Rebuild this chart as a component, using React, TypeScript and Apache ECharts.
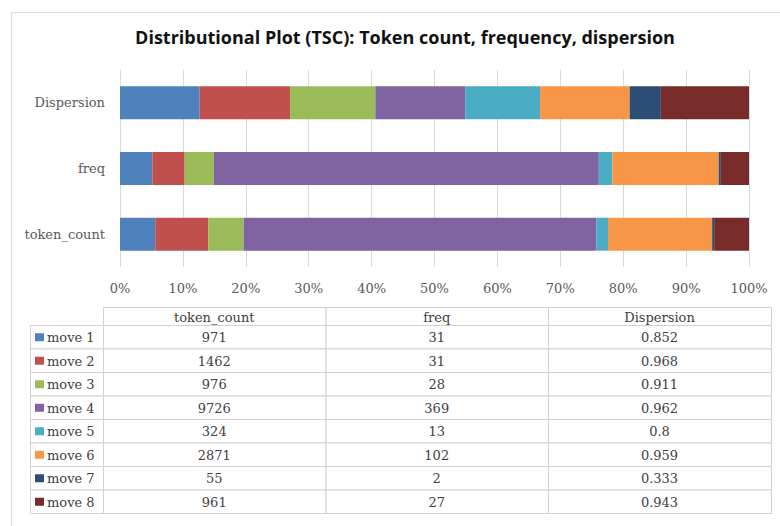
import React, { useEffect, useRef } from "react";
import * as echarts from "echarts";

const categories = ["token_count", "freq", "Dispersion"];
const moves = ["move 1", "move 2", "move 3", "move 4", "move 5", "move 6", "move 7", "move 8"];
const tokenCount = [971, 1462, 976, 9726, 324, 2871, 55, 961];
const freq = [31, 31, 28, 369, 13, 102, 2, 27];
const dispersion = [0.852, 0.968, 0.911, 0.962, 0.8, 0.959, 0.333, 0.943];
const tableColumns = ["token_count", "freq", "Dispersion"];
const colors = ["#4F81BD", "#C0504D", "#9BBB59", "#8064A2", "#4BACC6", "#F79646", "#2C4D75", "#772C2A"];
const title = "Distributional Plot (TSC): Token count, frequency, dispersion";

const SERIF = "'DejaVu Serif', serif";

function buildTable(): any[] {
  const els: any[] = [];
  const top = 307;
  const headerH = 18;
  const rowH = 23.5;
  const colX = [103, 325.5, 548, 771];
  const legX0 = 30;
  const border = "#d2d2d2";
  const textColor = "#404040";
  const cols = [tokenCount, freq, dispersion];
  for (let c = 0; c < 3; c++) {
    els.push({
      type: "rect",
      shape: { x: colX[c] + 0.5, y: top + 0.5, width: colX[c + 1] - colX[c], height: headerH },
      style: { fill: "#fff", stroke: border, lineWidth: 1 },
    });
    els.push({
      type: "text",
      x: (colX[c] + colX[c + 1]) / 2,
      y: top + headerH / 2 + 1,
      style: { text: tableColumns[c], font: `13px ${SERIF}`, fill: textColor, align: "center", verticalAlign: "middle" },
    });
  }
  for (let r = 0; r < moves.length; r++) {
    const y = top + headerH + r * rowH;
    els.push({
      type: "rect",
      shape: { x: legX0 + 0.5, y: y + 0.5, width: colX[0] - legX0, height: rowH },
      style: { fill: "#fff", stroke: border, lineWidth: 1 },
    });
    els.push({
      type: "rect",
      shape: { x: 35, y: y + rowH / 2 - 3.5, width: 9, height: 8 },
      style: { fill: colors[r] },
    });
    els.push({
      type: "text",
      x: 47,
      y: y + rowH / 2 + 1,
      style: { text: moves[r], font: `13px ${SERIF}`, fill: textColor, align: "left", verticalAlign: "middle" },
    });
    for (let c = 0; c < 3; c++) {
      els.push({
        type: "rect",
        shape: { x: colX[c] + 0.5, y: y + 0.5, width: colX[c + 1] - colX[c], height: rowH },
        style: { fill: "#fff", stroke: border, lineWidth: 1 },
      });
      els.push({
        type: "text",
        x: (colX[c] + colX[c + 1]) / 2,
        y: y + rowH / 2 + 1,
        style: { text: String(cols[c][r]), font: `13px ${SERIF}`, fill: textColor, align: "center", verticalAlign: "middle" },
      });
    }
  }
  return els;
}

export default function App() {
  const ref = useRef<HTMLDivElement>(null);
  useEffect(() => {
    if (!ref.current) return;
    const chart = echarts.init(ref.current, undefined, { renderer: "svg" });
    const sums = [
      tokenCount.reduce((a, b) => a + b, 0),
      freq.reduce((a, b) => a + b, 0),
      dispersion.reduce((a, b) => a + b, 0),
    ];
    const series = moves.map((m, i) => ({
      name: m,
      type: "bar",
      stack: "total",
      barWidth: 33,
      itemStyle: { color: colors[i] },
      data: [tokenCount[i] / sums[0], freq[i] / sums[1], dispersion[i] / sums[2]],
    }));
    chart.setOption({
      animation: false,
      backgroundColor: "#ffffff",
      title: {
        text: title,
        left: 400,
        textAlign: "center",
        top: 23,
        textStyle: { fontFamily: "'Open Sans'", fontWeight: "bold", fontSize: 18, color: "#111" },
      },
      grid: { left: 120, right: 31, top: 70, bottom: 526 - 267 },
      xAxis: {
        type: "value",
        min: 0,
        max: 1,
        interval: 0.1,
        axisLine: { show: false },
        axisTick: { show: false },
        splitLine: { lineStyle: { color: "#d9d9d9", width: 1 } },
        axisLabel: {
          margin: 15,
          color: "#595959",
          fontFamily: SERIF,
          fontSize: 13,
          formatter: (v: number) => `${Math.round(v * 100)}%`,
        },
      },
      yAxis: {
        type: "category",
        data: categories,
        axisLine: { show: false },
        axisTick: { show: false },
        axisLabel: { margin: 15, color: "#595959", fontFamily: SERIF, fontSize: 13 },
      },
      series,
      graphic: [
        {
          type: "rect",
          shape: { x: 11.5, y: 12.5, width: 900, height: 700 },
          style: { fill: "none", stroke: "#d9d9d9", lineWidth: 1 },
          silent: true,
          z: -1,
        },
        ...buildTable(),
      ],
    });
    return () => chart.dispose();
  }, []);
  return <div ref={ref} style={{ position: "absolute", left: 0, top: 0, width: 780, height: 526 }} />;
}
